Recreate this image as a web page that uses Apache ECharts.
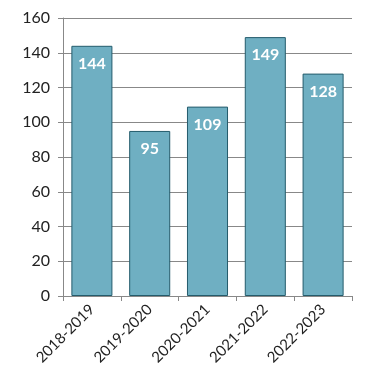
<!DOCTYPE html>
<html><head><meta charset="utf-8">
<script src="https://cdn.jsdelivr.net/npm/echarts@6/dist/echarts.min.js"></script>
<style>html,body{margin:0;padding:0;background:#fff}#c{width:382px;height:387px}</style>
</head><body><div id="c"></div>
<script>
const categories = ['2018-2019','2019-2020','2020-2021','2021-2022','2022-2023'];
const values = [144, 95, 109, 149, 128];
const yTicks = {min: 0, max: 160, interval: 20};

const chart = echarts.init(document.getElementById('c'));
const font = 'Lato, "DejaVu Sans", sans-serif';
chart.setOption({
  animation: false,
  grid: {left: 63, right: 30, top: 18, bottom: 91},
  xAxis: {
    type: 'category', data: categories,
    axisLine: {lineStyle: {color: '#888', width: 1}},
    axisTick: {show: true, length: 5, lineStyle: {color: '#888'}},
    axisLabel: {rotate: 45, color: '#222', fontSize: 15, fontFamily: font, margin: 11}
  },
  yAxis: {
    type: 'value', min: yTicks.min, max: yTicks.max, interval: yTicks.interval,
    axisLine: {show: true, lineStyle: {color: '#888'}},
    axisTick: {show: true, length: 5, lineStyle: {color: '#888'}},
    splitLine: {lineStyle: {color: '#888'}},
    axisLabel: {color: '#222', fontSize: 16, fontFamily: font, margin: 13}
  },
  series: [{
    type: 'bar', data: values, barCategoryGap: '29%',
    itemStyle: {color: '#6FAFC2', borderColor: '#245C6C', borderWidth: 1},
    label: {show: true, position: 'insideTop', distance: 10, color: '#fff',
      fontWeight: 'bold', fontSize: 16, fontFamily: font}
  }]
});
</script></body></html>
